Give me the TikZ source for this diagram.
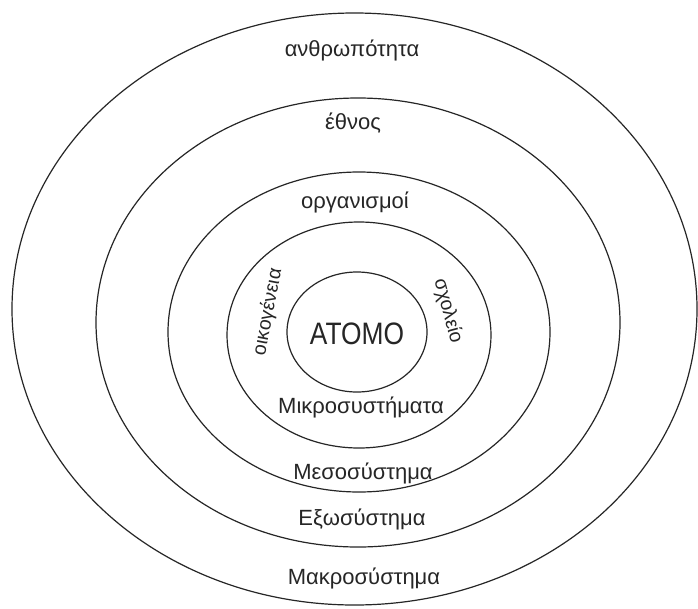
\documentclass[tikz,border=0pt]{standalone}
\usepackage{fontspec}
\setmainfont{Liberation Sans}
\newfontfamily\narrowfont[FakeStretch=0.85]{Liberation Sans}
\begin{document}
\begin{tikzpicture}[x=1pt,y=-1pt,
  ring/.style={draw=black!85,line width=1.2pt},
  lbl/.style={font=\fontsize{22}{25}\selectfont,text=black!85,inner sep=0pt},
  sidelbl/.style={font=\fontsize{19.5}{22}\selectfont,text=black!85,inner sep=0pt}]
\useasboundingbox (0,0) rectangle (698,608);
\fill[white] (0,0) rectangle (698,608);
% concentric systems, outermost first
\draw[ring] (354.5,309) ellipse [x radius=342.5, y radius=296];
\draw[ring] (358,322.5) ellipse [x radius=262, y radius=224.5];
\draw[ring] (359,332) ellipse [x radius=191, y radius=160];
\draw[ring] (359,335) ellipse [x radius=132, y radius=113];
\draw[ring] (357,332) ellipse [x radius=70, y radius=60];
% labels
\node[lbl] (anth) at (352,50) {ανθρωπότητα};
\node[lbl] (ethn) at (353,123) {έθνος};
\node[lbl] (org) at (355,202) {οργανισμοί};
\node[inner sep=0pt,text=black!85,font=\narrowfont\fontsize{31}{34}\selectfont] (atom) at (357,334) {ΑΤΟΜΟ};
\node[sidelbl,rotate=79] (oik) at (268,312) {οικογένεια};
\node[sidelbl,rotate=-75] (sxo) at (448,311) {σχολείο};
\node[lbl] (mikro) at (361,407) {Μικροσυστήματα};
\node[lbl] (meso) at (363,473) {Μεσοσύστημα};
\node[lbl] (exo) at (362,519) {Εξωσύστημα};
\node[lbl] (makro) at (364,578) {Μακροσύστημα};
\end{tikzpicture}
\end{document}
